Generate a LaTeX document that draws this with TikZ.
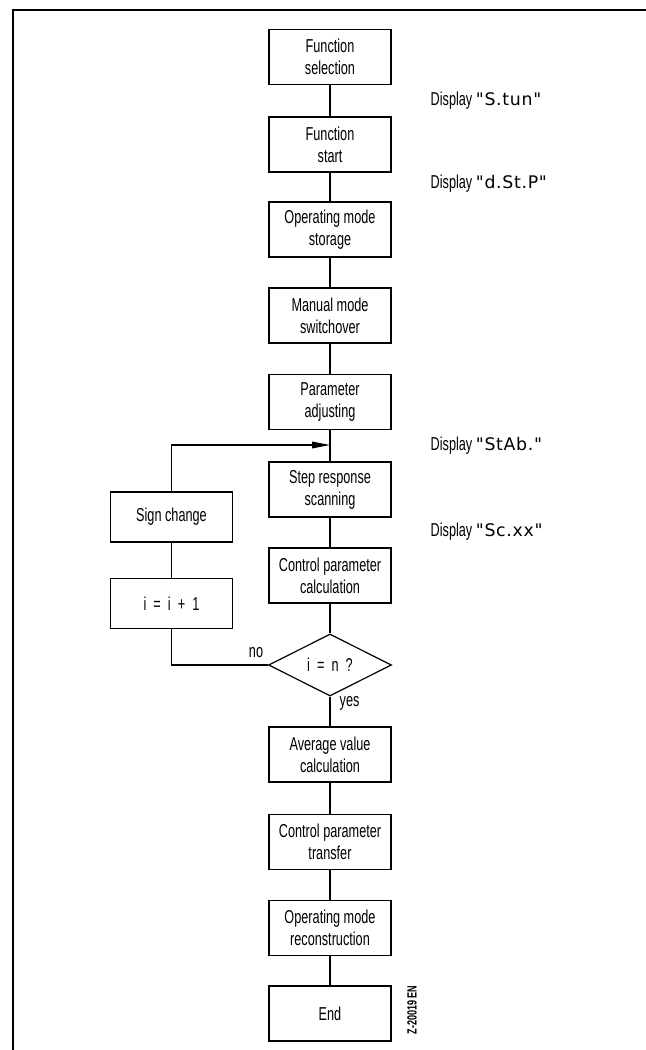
\documentclass[tikz,border=0pt]{standalone}
\usepackage{fontspec}
\setmainfont{Liberation Sans}[FakeStretch=0.68]
\newfontfamily\quotefont{DejaVu Sans}[LetterSpace=4]
\usepackage{tikz}
\usetikzlibrary{arrows.meta,shapes.geometric,positioning}

\begin{document}
\begin{tikzpicture}[
    x=0.75pt, y=-0.75pt,
    box style/.style={rectangle, draw, line width=0.9pt, minimum width=91.5pt, minimum height=41.25pt, align=center, inner sep=2pt, font=\fontsize{14}{16.5}\selectfont},
    side box style/.style={box style, minimum height=37.5pt},
    decision style/.style={diamond, draw, line width=0.9pt, minimum width=92.25pt, minimum height=46.5pt, inner sep=0pt, font=\fontsize{14}{14}\selectfont},
    display style/.style={anchor=west, font=\fontsize{14}{14}\selectfont},
    answer style/.style={font=\fontsize{14}{14}\selectfont},
    flow/.style={line width=0.9pt},
    back arrow/.style={flow, -{Triangle[length=13.5pt,width=5pt]}}
]
\useasboundingbox (0,0) rectangle (646,1050);
\draw[line width=1.5pt] (12.5,1050) -- (12.5,10) -- (646,10);

% main column
\node[box style] (fsel) at (330,57) {Function\\selection};
\node[box style] (fstart) at (330,144.5) {Function\\start};
\node[box style] (opstore) at (330,229.5) {Operating mode\\storage};
\node[box style] (manual) at (330,315.5) {Manual mode\\switchover};
\node[box style] (param) at (330,402) {Parameter\\adjusting};
\node[box style] (scan) at (330,489.5) {Step response\\scanning};
\node[box style] (calc) at (330,575.5) {Control parameter\\calculation};
\node[decision style] (check) at (330,665) {i\ \ =\ \ n\ \ ?};
\node[box style] (avg) at (330,754.5) {Average value\\calculation};
\node[box style] (transfer) at (330,842) {Control parameter\\transfer};
\node[box style] (recon) at (330,928) {Operating mode\\reconstruction};
\node[box style] (end) at (330,1013.5) {End};

% loop back
\node[side box style] (sign) at (171.5,517) {Sign change};
\node[side box style] (incr) at (171.5,603.5) {i\ \ =\ \ i\ \ +\ \ 1};
\coordinate (join) at (330,445);

% display texts
\node[display style] (dstun) at (426,101) {Display \quotefont\fontsize{13}{14}\selectfont"S.tun"};
\node[display style] (dstp) at (426,184) {Display \quotefont\fontsize{13}{14}\selectfont"d.St.P"};
\node[display style] (dstab) at (426,446) {Display \quotefont\fontsize{13}{14}\selectfont"StAb."};
\node[display style] (dscxx) at (426,532) {Display \quotefont\fontsize{13}{14}\selectfont"Sc.xx"};

\node[answer style] (no) at (256,653) {no};
\node[answer style, anchor=west] (yes) at (335,703) {yes};
\node[rotate=90, font=\bfseries\fontsize{10}{10}\selectfont] (figno) at (412,1010) {Z-20019 EN};

\draw[flow] (fsel) -- (fstart);
\draw[flow] (fstart) -- (opstore);
\draw[flow] (opstore) -- (manual);
\draw[flow] (manual) -- (param);
\draw[flow] (param) -- (scan);
\draw[flow] (scan) -- (calc);
\draw[flow] (calc) -- (check);
\draw[flow] (check) -- (avg);
\draw[flow] (avg) -- (transfer);
\draw[flow] (transfer) -- (recon);
\draw[flow] (recon) -- (end);
\draw[flow] (check.west) -| (incr.south);
\draw[flow] (incr) -- (sign);
\draw[back arrow] (sign.north) |- (join);
\end{tikzpicture}
\end{document}
